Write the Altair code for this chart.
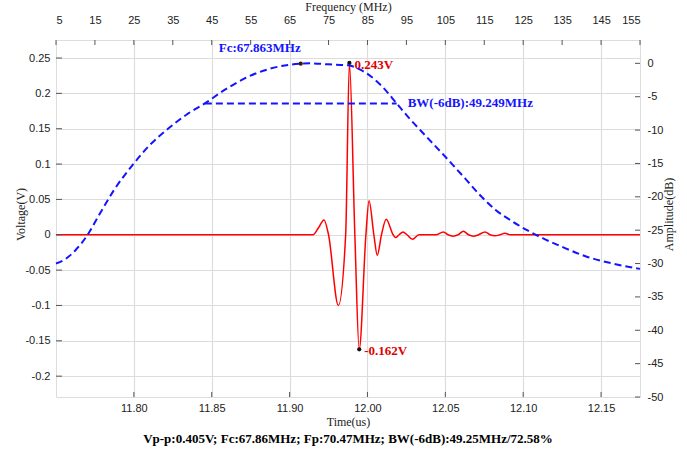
import altair as alt
import pandas as pd

# ---------------- data ----------------
# time-domain echo (time in axis units of the bottom scale, voltage in V)
TIME_US = [11.7500, 11.9150, 11.9186, 11.9221, 11.9250, 11.9313, 11.9360, 11.9384,
           11.9419, 11.9447, 11.9490, 11.9510, 11.9541, 11.9563, 11.9590, 11.9620,
           11.9665, 11.9680, 11.9703, 11.9728, 11.9754, 11.9789, 11.9831, 11.9940,
           11.9987, 12.0017, 12.0051, 12.0082, 12.0116, 12.0149, 12.0180, 12.0213,
           12.0255, 12.0287, 12.0319, 12.0351, 12.0383, 12.0416, 12.1250]
VOLTAGE = [0.0, 0.0, 0.010, 0.021, 0.0, -0.100, 0.0, 0.243,
           0.0, -0.162, 0.0, 0.048, 0.0, -0.029, 0.0, 0.022,
           0.0, -0.004, 0.0, 0.004, 0.0, -0.0065, 0.0, 0.0,
           0.004, 0.0, -0.002, 0.0, 0.005, 0.0, -0.002, 0.0,
           0.004, 0.0, -0.0015, 0.0, 0.002, 0.0, 0.0]

# spectrum (MHz, dB)
FREQ_MHZ = [5, 7.5, 10, 13, 16, 20, 25, 29, 34, 39, 43.24, 48, 54, 60, 65, 67.863,
            70.47, 75, 80, 83, 86, 89, 92.49, 96, 100, 105, 110, 114, 118, 122,
            126, 130, 135, 141, 148, 155]
AMP_DB = [-30.0, -29.3, -28.0, -25.8, -22.8, -18.9, -15.0, -12.3, -9.7, -7.5, -6.0,
          -4.1, -2.1, -0.8, -0.2, -0.05, 0.0, -0.15, -0.3, -0.9, -2.0, -3.6, -6.0,
          -8.4, -10.9, -14.0, -17.2, -19.8, -22.0, -23.6, -25.0, -26.2, -27.5,
          -28.9, -30.0, -30.8]

# markers / annotations
PEAK_T, PEAK_V, PEAK_LABEL = 11.9384, 0.243, "0.243V"
TROUGH_T, TROUGH_V, TROUGH_LABEL = 11.9447, -0.162, "-0.162V"
FC_MHZ, FC_DB, FC_LABEL = 67.863, -0.05, "Fc:67.863MHz"
BW_LO, BW_HI, BW_DB, BW_LABEL = 43.24, 92.49, -6.0, "BW(-6dB):49.249MHz"
CAPTION = "Vp-p:0.405V;  Fc:67.86MHz;  Fp:70.47MHz;  BW(-6dB):49.25MHz/72.58%"

# axes ticks
TIME_TICKS = [11.80, 11.85, 11.90, 11.95, 12.00, 12.05, 12.10]
TIME_TICK_LABELS = ["11.80", "11.85", "11.90", "12.00", "12.05", "12.10", "12.15"]
VOLT_TICKS = [0.25, 0.2, 0.15, 0.1, 0.05, 0, -0.05, -0.1, -0.15, -0.2]
FREQ_TICKS = [5, 15, 25, 35, 45, 55, 65, 75, 85, 95, 105, 115, 125, 135, 145, 155]
DB_TICKS = [0, -5, -10, -15, -20, -25, -30, -35, -40, -45, -50]

# ---------------- styling ----------------
W, H = 584, 357
SANS = "Liberation Sans"
SERIF = "Liberation Serif"
RED = "#ff0000"
BLUE = "#1414ff"
FRAME = "#555555"
GRID = "#dcdcdc"

xt = alt.Scale(domain=[11.75, 12.125], nice=False, zero=False)
yv = alt.Scale(domain=[-0.2295, 0.2755], nice=False, zero=False)
xf = alt.Scale(domain=[5, 155], nice=False, zero=False)
yd = alt.Scale(domain=[-50, 3.5], nice=False, zero=False)

time_label_expr = "{}[indexof({}, datum.value)]".format(
    "[" + ",".join("'%s'" % s for s in TIME_TICK_LABELS) + "]",
    "[" + ",".join(repr(v) for v in TIME_TICKS) + "]")

common_axis = dict(labelFont=SANS, labelFontSize=11, labelColor="#222222",
                   titleFont=SERIF, titleFontSize=12, titleFontWeight="normal",
                   titleColor="#222222", domain=False, ticks=False, tickSize=0)

ax_time = alt.Axis(orient="bottom", values=TIME_TICKS, labelExpr=time_label_expr,
                   title="Time(us)", grid=True, gridColor=GRID, gridWidth=1.2,
                   labelPadding=5, titlePadding=3, **common_axis)
ax_volt = alt.Axis(orient="left", values=VOLT_TICKS, labelExpr="datum.value + ''",
                   title="Voltage(V)", grid=True, gridColor=GRID, gridWidth=1.2,
                   labelPadding=6, titleX=-36, titleY=174, titleAngle=270,
                   titleAlign="center", titleBaseline="middle", **common_axis)
ax_freq = alt.Axis(orient="top", values=FREQ_TICKS, title="Frequency (MHz)", grid=False,
                   labelPadding=15, titleY=-39, titleBaseline="top", **common_axis)
ax_db = alt.Axis(orient="right", values=DB_TICKS, labelExpr="datum.value + ''",
                 title="Amplitude(dB)", grid=False, labelPadding=7,
                 titleX=28, titleY=174, titleAngle=270, titleAlign="center",
                 titleBaseline="middle", **common_axis)


def X_t(field="t:Q"):
    return alt.X(field, scale=xt, axis=ax_time)


def Y_v(field="v:Q"):
    return alt.Y(field, scale=yv, axis=ax_volt)


def X_f(field="f:Q"):
    return alt.X(field, scale=xf, axis=ax_freq)


def Y_d(field="db:Q"):
    return alt.Y(field, scale=yd, axis=ax_db)


wave_df = pd.DataFrame({"t": TIME_US, "v": VOLTAGE})
spec_df = pd.DataFrame({"f": FREQ_MHZ, "db": AMP_DB})

# ---------------- time domain group ----------------
wave = alt.Chart(wave_df).mark_line(color=RED, strokeWidth=1.5, interpolate="monotone").encode(
    x=X_t(), y=Y_v())

pts_df = pd.DataFrame({"t": [PEAK_T, TROUGH_T], "v": [PEAK_V, TROUGH_V],
                       "lab": [PEAK_LABEL, TROUGH_LABEL]})
pts = alt.Chart(pts_df).mark_point(filled=True, color="#111111", size=18, opacity=1).encode(
    x=X_t(), y=Y_v())
pts_text = alt.Chart(pts_df).mark_text(
    align="left", baseline="middle", dx=5, dy=2, font=SERIF, fontSize=13,
    fontWeight="bold", color="#e00000").encode(x=X_t(), y=Y_v(), text="lab:N")

lt = alt.Chart(pd.DataFrame({"v": VOLT_TICKS})).mark_rule(color=FRAME, strokeWidth=1).encode(
    y=Y_v(), x=alt.value(0), x2=alt.value(6))
bt = alt.Chart(pd.DataFrame({"t": TIME_TICKS})).mark_rule(color=FRAME, strokeWidth=1).encode(
    x=X_t(), y=alt.value(H - 5), y2=alt.value(H))

time_group = alt.layer(wave, pts, pts_text, lt, bt)

# ---------------- frequency domain group ----------------
curve = alt.Chart(spec_df).mark_line(color=BLUE, strokeWidth=2, strokeDash=[7, 4],
                                     interpolate="monotone").encode(x=X_f(), y=Y_d())

bw_df = pd.DataFrame({"f": [BW_LO], "f2": [BW_HI], "db": [BW_DB], "lab": [BW_LABEL]})
bw_line = alt.Chart(bw_df).mark_rule(color=BLUE, strokeWidth=2, strokeDash=[7, 4]).encode(
    x=X_f(), x2="f2:Q", y=Y_d())
bw_text = alt.Chart(bw_df).mark_text(
    align="left", baseline="middle", dx=11, dy=0, font=SERIF, fontSize=13,
    fontWeight="bold", color=BLUE).encode(x=X_f("f2:Q"), y=Y_d(), text="lab:N")

fc_df = pd.DataFrame({"f": [FC_MHZ], "db": [FC_DB], "lab": [FC_LABEL]})
fc_dot = alt.Chart(fc_df).mark_point(filled=True, color="#3a1c00", size=18, opacity=1).encode(
    x=X_f(), y=Y_d())
fc_text = alt.Chart(fc_df).mark_text(
    align="right", baseline="middle", dx=0, dy=-16, font=SERIF, fontSize=13,
    fontWeight="bold", color=BLUE).encode(x=X_f(), y=Y_d(), text="lab:N")

rt = alt.Chart(pd.DataFrame({"db": DB_TICKS})).mark_rule(color=FRAME, strokeWidth=1).encode(
    y=Y_d(), x=alt.value(W - 5), x2=alt.value(W))
tt = alt.Chart(pd.DataFrame({"f": FREQ_TICKS})).mark_rule(color=FRAME, strokeWidth=1).encode(
    x=X_f(), y=alt.value(0), y2=alt.value(5))

freq_group = alt.layer(curve, bw_line, bw_text, fc_dot, fc_text, rt, tt)

chart = alt.layer(time_group, freq_group).resolve_scale(
    x="independent", y="independent"
).properties(
    width=W, height=H,
    autosize=alt.AutoSizeParams(type="none"),
    padding={"left": 56, "top": 40, "right": 47, "bottom": 55},
    title=alt.TitleParams(text=CAPTION, orient="bottom", anchor="middle", font=SERIF,
                          fontSize=13, fontWeight="bold", color="#000000", offset=6),
).configure_view(stroke=FRAME, strokeWidth=1.5).configure(background="white")

chart.save("out.html", embed_options={"renderer": "svg", "actions": False})
